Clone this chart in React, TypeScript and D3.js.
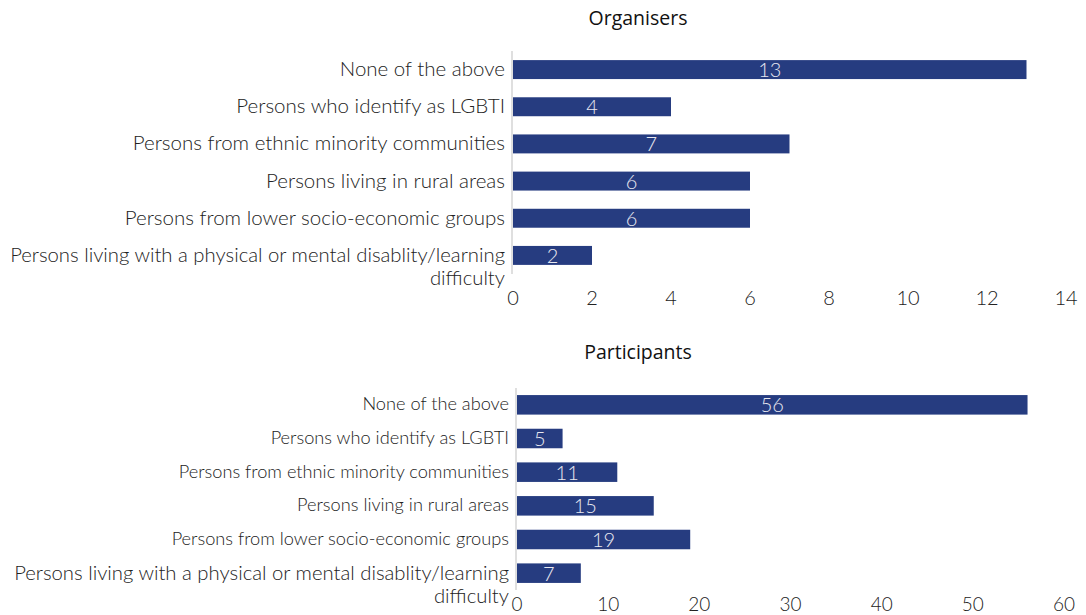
import React, { useEffect, useRef } from "react";
import * as d3 from "d3";

const categories = [
  "None of the above",
  "Persons who identify as LGBTI",
  "Persons from ethnic minority communities",
  "Persons living in rural areas",
  "Persons from lower socio-economic groups",
  "Persons living with a physical or mental disablity/learning difficulty",
];
const organisersValues = [13, 4, 7, 6, 6, 2];
const participantsValues = [56, 5, 11, 15, 19, 7];
const organisersTicks = [0, 2, 4, 6, 8, 10, 12, 14];
const participantsTicks = [0, 10, 20, 30, 40, 50, 60];

const BAR = "#263c80";
const FONT = "Lato, 'DejaVu Sans', sans-serif";

type Panel = {
  title: string;
  titleY: number;
  values: number[];
  ticks: number[];
  max: number;
  x0: number;
  x1: number;
  y0: number;
  y1: number;
  padding: number;
  labelSize: number;
  longLabelSize: number;
  tickY: number;
  tickSize: number;
  labelRight: number;
};

const panels: Panel[] = [
  {
    title: "Organisers",
    titleY: 20,
    values: organisersValues,
    ticks: organisersTicks,
    max: 14,
    x0: 513,
    x1: 1066,
    y0: 51,
    y1: 274,
    padding: 0.49,
    labelSize: 20.5,
    longLabelSize: 20.3,
    tickY: 297,
    tickSize: 20,
    labelRight: 505,
  },
  {
    title: "Participants",
    titleY: 354,
    values: participantsValues,
    ticks: participantsTicks,
    max: 60,
    x0: 517,
    x1: 1064,
    y0: 388,
    y1: 590,
    padding: 0.42,
    labelSize: 18.2,
    longLabelSize: 20.3,
    tickY: 603,
    tickSize: 19,
    labelRight: 509,
  },
];

function wrap(text: string, size: number, maxW: number): string[] {
  const c = document.createElement("canvas").getContext("2d")!;
  c.font = `300 ${size}px ${FONT}`;
  const words = text.split(" ");
  const lines: string[] = [];
  let cur = "";
  for (const w of words) {
    const t = cur ? cur + " " + w : w;
    if (c.measureText(t).width > maxW && cur) {
      lines.push(cur);
      cur = w;
    } else cur = t;
  }
  if (cur) lines.push(cur);
  return lines;
}

export default function App() {
  const ref = useRef<SVGSVGElement>(null);
  useEffect(() => {
    const svg = d3.select(ref.current);
    svg.selectAll("*").remove();
    panels.forEach((p) => {
      const g = svg.append("g");
      const x = d3.scaleLinear().domain([0, p.max]).range([p.x0, p.x1]);
      const y = d3
        .scaleBand<string>()
        .domain(categories)
        .range([p.y0, p.y1])
        .paddingInner(p.padding)
        .paddingOuter(p.padding / 2);

      g.append("text")
        .attr("x", 638)
        .attr("y", p.titleY)
        .attr("text-anchor", "middle")
        .attr("dominant-baseline", "middle")
        .attr("font-family", "'Open Sans', sans-serif")
        .attr("font-weight", 500)
        .attr("font-size", 19.5)
        .attr("fill", "#111")
        .text(p.title);

      // axis line
      g.append("line")
        .attr("x1", p.x0 - 1)
        .attr("x2", p.x0 - 1)
        .attr("y1", p.y0)
        .attr("y2", p.y1)
        .attr("stroke", "#d4d4d4")
        .attr("stroke-width", 1.5);

      // bars
      g.selectAll("rect.bar")
        .data(p.values)
        .join("rect")
        .attr("x", x(0))
        .attr("y", (_, i) => y(categories[i])!)
        .attr("width", (d) => x(d) - x(0))
        .attr("height", y.bandwidth())
        .attr("fill", BAR);

      // value labels
      g.selectAll("text.val")
        .data(p.values)
        .join("text")
        .attr("x", (d) => x(d / 2))
        .attr("y", (_, i) => y(categories[i])! + y.bandwidth() / 2 - 0.5)
        .attr("text-anchor", "middle")
        .attr("dominant-baseline", "central")
        .attr("font-family", FONT)
        .attr("font-weight", 300)
        .attr("font-size", 20)
        .attr("fill", "#e8e8f0")
        .text((d) => String(d));

      // category labels
      categories.forEach((c, i) => {
        const size = i === categories.length - 1 ? p.longLabelSize : p.labelSize;
        const lines = wrap(c, size, 500);
        const cy = y(c)! + y.bandwidth() / 2 - 1.5;
        lines.forEach((ln, k) => {
          g.append("text")
            .attr("x", p.labelRight)
            .attr("y", cy + k * 23)
            .attr("text-anchor", "end")
            .attr("dominant-baseline", "central")
            .attr("font-family", FONT)
            .attr("font-weight", 300)
            .attr("font-size", size)
            .attr("fill", "#222")
            .text(ln);
        });
      });

      // ticks
      g.selectAll("text.tick")
        .data(p.ticks)
        .join("text")
        .attr("x", (d) => x(d))
        .attr("y", p.tickY)
        .attr("text-anchor", "middle")
        .attr("dominant-baseline", "central")
        .attr("font-family", FONT)
        .attr("font-weight", 300)
        .attr("font-size", p.tickSize)
        .attr("fill", "#222")
        .text((d) => String(d));
    });
  }, []);
  return (
    <div style={{ position: "absolute", left: 0, top: 0 }}>
      <svg ref={ref} width={1086} height={615} style={{ display: "block", background: "#fff" }} />
    </div>
  );
}
